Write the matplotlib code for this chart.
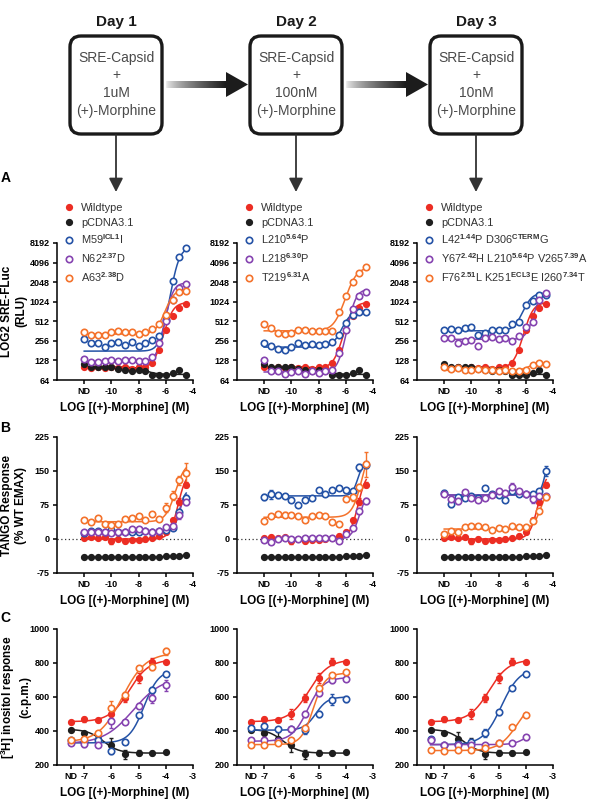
import numpy as np
import matplotlib
matplotlib.use("Agg")
import matplotlib.pyplot as plt
from matplotlib.patches import FancyBboxPatch, Polygon
from matplotlib.lines import Line2D
from matplotlib.colors import LinearSegmentedColormap
from matplotlib.ticker import NullLocator

plt.rcParams['font.family'] = ['Liberation Sans', 'DejaVu Sans']
plt.rcParams['mathtext.fontset'] = 'custom'
plt.rcParams['mathtext.rm'] = 'Liberation Sans'
plt.rcParams['mathtext.bf'] = 'Liberation Sans:bold'
plt.rcParams['axes.unicode_minus'] = False

# ---------------- data ----------------
# ND is drawn at -12 (panels A, B) and at -7.5 (panel C)
x_ab = [-12, -11.5, -11, -10.5, -10, -9.5, -9, -8.5, -8, -7.5, -7, -6.5, -6, -5.5, -5, -4.5]
x_c = [-7.5, -7, -6.5, -6, -5.5, -5, -4.5, -4]

days = ['Day 1', 'Day 2', 'Day 3']
box_doses = ['1uM', '100nM', '10nM']

names = [
    ['Wildtype', 'pCDNA3.1', r'M59$^{\mathbf{ICL1}}$I', r'N62$^{\mathbf{2.37}}$D', r'A63$^{\mathbf{2.38}}$D'],
    ['Wildtype', 'pCDNA3.1', r'L210$^{\mathbf{5.64}}$P', r'L218$^{\mathbf{6.30}}$P', r'T219$^{\mathbf{6.31}}$A'],
    ['Wildtype', 'pCDNA3.1', r'L42$^{\mathbf{1.44}}$P D306$^{\mathbf{CTERM}}$G',
     r'Y67$^{\mathbf{2.42}}$H L210$^{\mathbf{5.64}}$P V265$^{\mathbf{7.39}}$A',
     r'F76$^{\mathbf{2.51}}$L K251$^{\mathbf{ECL3}}$E I260$^{\mathbf{7.34}}$T'],
]

# A: SRE-FLuc (RLU)
wt_a = [100, 98, 100, 97, 100, 98, 100, 96, 100, 100, 115, 185, 380, 620, 820, 950]
pc_a = [114, 103, 102, 100, 100, 96, 92, 88, 92, 88, 76, 76, 76, 82, 92, 76]
m59_a = [272, 240, 240, 205, 240, 250, 225, 250, 215, 240, 260, 300, 540, 2150, 5000, 6800]
n62_a = [135, 122, 122, 124, 128, 124, 128, 128, 124, 125, 145, 240, 520, 1100, 1650, 1950]
a63_a = [354, 315, 318, 320, 350, 360, 355, 350, 330, 345, 390, 460, 650, 1100, 1450, 1500]
l210_a = [234, 217, 190, 188, 205, 235, 222, 229, 222, 229, 245, 310, 490, 640, 700, 710]
l218_a = [130, 88, 88, 80, 86, 88, 80, 88, 82, 88, 92, 165, 380, 800, 1250, 1450]
t219_a = [470, 410, 340, 330, 335, 375, 380, 365, 365, 365, 365, 700, 1250, 2070, 2800, 3450]
l42_a = [370, 390, 370, 405, 415, 320, 340, 380, 370, 380, 470, 505, 900, 1050, 1300, 1300]
y67_a = [286, 286, 240, 255, 260, 215, 286, 290, 275, 286, 255, 300, 420, 500, 1100, 1400]
f76_a = [100, 95, 98, 92, 92, 95, 90, 92, 87, 92, 88, 88, 92, 108, 115, 112]

# B: TANGO response (% WT EMAX) with error
wt_b = [2, 4, 2, 4, -5, 1, -4, -2, -2, -1, 2, 7, 15, 41, 82, 120]
wt_b_err = [3, 3, 3, 3, 6, 3, 4, 3, 3, 3, 3, 4, 4, 6, 8, 6]
pc_b = [-40, -40, -40, -40, -40, -40, -40, -40, -40, -39, -39, -39, -38, -38, -37, -36]
pc_b_err = [2, 2, 2, 2, 2, 2, 2, 2, 2, 2, 2, 2, 2, 2, 2, 2]
m59_b = [13, 17, 17, 15, 20, 16, 15, 16, 15, 17, 16, 17, 20, 25, 60, 90]
m59_b_err = [3, 3, 3, 3, 3, 3, 3, 3, 3, 3, 3, 3, 3, 4, 6, 6]
n62_b = [15, 15, 15, 16, 14, 16, 16, 22, 22, 17, 16, 18, 26, 28, 52, 82]
n62_b_err = [3, 3, 3, 3, 3, 3, 3, 4, 4, 3, 3, 3, 4, 4, 8, 6]
a63_b = [42, 37, 47, 33, 30, 33, 45, 46, 50, 41, 56, 45, 69, 95, 130, 146]
a63_b_err = [3, 3, 3, 3, 3, 3, 3, 4, 4, 4, 3, 3, 10, 10, 10, 22]
l210_b = [93, 99, 96, 95, 85, 76, 87, 90, 108, 99, 107, 112, 108, 105, 158, 164]
l210_b_err = [6, 10, 6, 5, 4, 4, 5, 5, 5, 4, 4, 4, 4, 4, 8, 8]
l218_b = [-3, -7, 0, 2, 1, 0, 2, 3, 3, 3, 3, -4, 10, 24, 62, 84]
l218_b_err = [3, 3, 3, 3, 3, 3, 3, 3, 3, 3, 3, 3, 3, 4, 6, 6]
t219_b = [40, 51, 55, 54, 53, 50, 42, 51, 53, 50, 37, 32, 88, 92, 114, 165]
t219_b_err = [3, 3, 5, 5, 5, 3, 3, 4, 4, 4, 4, 3, 5, 8, 8, 28]
l42_b = [102, 78, 92, 90, 95, 90, 112, 100, 98, 86, 105, 100, 100, 100, 105, 150]
l42_b_err = [5, 8, 5, 5, 5, 4, 5, 4, 4, 4, 4, 4, 4, 4, 5, 10]
y67_b = [100, 88, 83, 104, 90, 87, 90, 98, 105, 102, 115, 105, 100, 88, 95, 95]
y67_b_err = [4, 5, 5, 4, 4, 4, 4, 4, 4, 4, 8, 4, 4, 8, 5, 5]
f76_b = [11, 18, 15, 26, 29, 29, 26, 20, 24, 22, 28, 27, 26, 40, 62, 92]
f76_b_err = [3, 3, 3, 3, 3, 3, 3, 3, 3, 3, 3, 3, 3, 4, 5, 6]

# C: [3H] inositol response (c.p.m.) with error
wt_c = [452, 470, 462, 500, 595, 712, 808, 806]
wt_c_err = [8, 15, 8, 30, 25, 30, 20, 8]
pc_c = [405, 388, 355, 318, 262, 272, 270, 276]
pc_c_err = [6, 6, 40, 40, 25, 15, 12, 6]
m59_c = [350, 335, 345, 280, 335, 495, 642, 738]
m59_c_err = [10, 8, 10, 15, 10, 10, 15, 10]
n62_c = [330, 325, 318, 460, 452, 548, 592, 668]
n62_c_err = [10, 20, 12, 40, 10, 15, 25, 30]
a63_c = [350, 352, 388, 538, 612, 772, 775, 868]
a63_c_err = [10, 10, 10, 40, 20, 10, 15, 20]
l210_c = [415, 432, 410, 410, 405, 500, 585, 588]
l210_c_err = [10, 10, 10, 10, 25, 20, 30, 20]
l218_c = [345, 348, 340, 410, 500, 625, 700, 708]
l218_c_err = [15, 10, 10, 10, 20, 20, 15, 15]
t219_c = [320, 315, 330, 345, 415, 655, 728, 748]
t219_c_err = [8, 8, 10, 10, 15, 15, 10, 10]
l42_c = [355, 318, 322, 335, 388, 510, 652, 738]
l42_c_err = [10, 8, 10, 15, 25, 15, 10, 10]
y67_c = [348, 318, 320, 318, 315, 332, 328, 362]
y67_c_err = [10, 8, 8, 8, 8, 8, 8, 12]
f76_c = [290, 285, 289, 289, 298, 330, 422, 496]
f76_c_err = [6, 6, 6, 6, 6, 6, 8, 8]

# fitted curve parameters: (start level, end level, logEC50, hill)
fit_a = [
    [(98, 1000, -5.8, 1.3), (102, 78, -7.6, 1.0), (178, 7000, -5.2, 1.5), (122, 2000, -5.7, 1.6), (325, 1600, -5.8, 1.3)],
    [(98, 1000, -5.8, 1.3), (102, 78, -7.6, 1.0), (205, 730, -6.1, 1.3), (85, 1600, -5.5, 1.5), (365, 3500, -5.6, 1.1)],
    [(98, 1000, -5.8, 1.3), (102, 78, -7.6, 1.0), (365, 1400, -6.0, 1.3), (270, 1500, -5.2, 1.6), (90, 115, -5.8, 1.5)],
]
fit_b = [
    [(0, 150, -5.1, 1.4), (-40, -36, -5.5, 1.0), (15, 110, -5.0, 2.0), (16, 105, -5.0, 2.0), (38, 170, -5.3, 1.2)],
    [(0, 150, -5.1, 1.4), (-40, -36, -5.5, 1.0), (95, 175, -5.1, 2.0), (0, 105, -5.0, 1.5), (48, 220, -4.8, 1.2)],
    [(0, 150, -5.1, 1.4), (-40, -36, -5.5, 1.0), (97, 250, -4.4, 2.0), (96, 96, -6.0, 1.0), (22, 115, -4.9, 1.5)],
]
fit_c = [
    [(455, 820, -5.35, 1.2), (410, 270, -6.3, 1.5), (330, 760, -4.8, 1.6), (325, 720, -5.2, 0.8), (335, 860, -5.6, 1.0)],
    [(455, 820, -5.35, 1.2), (410, 270, -6.3, 1.5), (405, 600, -5.1, 2.0), (340, 715, -5.4, 1.5), (320, 740, -5.2, 2.0)],
    [(455, 820, -5.35, 1.2), (410, 270, -6.3, 1.5), (320, 770, -4.9, 1.3), (320, 400, -4.0, 2.0), (285, 600, -4.3, 1.3)],
]

data_a = [[wt_a, pc_a, m59_a, n62_a, a63_a], [wt_a, pc_a, l210_a, l218_a, t219_a], [wt_a, pc_a, l42_a, y67_a, f76_a]]
data_b = [[wt_b, pc_b, m59_b, n62_b, a63_b], [wt_b, pc_b, l210_b, l218_b, t219_b], [wt_b, pc_b, l42_b, y67_b, f76_b]]
err_b = [[wt_b_err, pc_b_err, m59_b_err, n62_b_err, a63_b_err], [wt_b_err, pc_b_err, l210_b_err, l218_b_err, t219_b_err],
         [wt_b_err, pc_b_err, l42_b_err, y67_b_err, f76_b_err]]
data_c = [[wt_c, pc_c, m59_c, n62_c, a63_c], [wt_c, pc_c, l210_c, l218_c, t219_c], [wt_c, pc_c, l42_c, y67_c, f76_c]]
err_c = [[wt_c_err, pc_c_err, m59_c_err, n62_c_err, a63_c_err], [wt_c_err, pc_c_err, l210_c_err, l218_c_err, t219_c_err],
         [wt_c_err, pc_c_err, l42_c_err, y67_c_err, f76_c_err]]

colors = ['#ec2d23', '#1e1e1e', '#2452a6', '#8543b0', '#f4722b']
filled = [True, True, False, False, False]
draw_order = [4, 3, 2, 1, 0]

# ---------------- figure ----------------
W, H = 591, 806
fig = plt.figure(figsize=(W / 100, H / 100), dpi=100)

# schematic on an overlay axes in pixel units
dax = fig.add_axes([0, 0, 1, 1])
dax.axis('off')
box_cx = [116, 296, 476]
box_w, box_top, box_bot = 92, 36, 134
grad = LinearSegmentedColormap.from_list('g', ['#f2f2f2', '#1c1c1c'])
for i, cx in enumerate(box_cx):
    dax.text(cx, 22, days[i], ha='center', va='center', fontsize=11, fontweight='bold', color='#1a1a1a')
    dax.add_patch(FancyBboxPatch((cx - box_w / 2, box_top), box_w, box_bot - box_top,
                                 boxstyle='round,pad=0,rounding_size=11', lw=2.4, ec='#1a1a1a', fc='white'))
    for j, t in enumerate(['SRE-Capsid', '+', box_doses[i], '(+)-Morphine']):
        dax.text(cx, 58 + j * 17.5, t, ha='center', va='center', fontsize=10, color='#4a4a4a')
    dax.annotate('', xy=(cx, 192), xytext=(cx, box_bot + 1),
                 arrowprops=dict(arrowstyle='-|>,head_length=0.55,head_width=0.28', color='#333333',
                                 lw=1.3, mutation_scale=15, shrinkA=0, shrinkB=0))
    if i < 2:
        x0 = cx + box_w / 2 + 4
        x1 = box_cx[i + 1] - box_w / 2 - 2
        hx = x1 - 22
        dax.imshow(np.linspace(0, 1, 100)[None, :] ** 0.7, extent=[x0, hx, 88, 81], cmap=grad,
                   aspect='auto', interpolation='bilinear')
        dax.add_patch(Polygon([(hx, 72), (x1, 84.5), (hx, 97)], closed=True, fc='#1c1c1c', ec='none'))
dax.set_xlim(0, W)
dax.set_ylim(H, 0)

for letter, yy in [('A', 178), ('B', 428), ('C', 618)]:
    fig.text(0.5 / W, 1 - yy / H, letter, fontsize=10, fontweight='bold', va='center', ha='left')

col_left = [57, 237, 417]
col_w = 136
rows = {'A': (243, 380), 'B': (437, 573), 'C': (629, 765)}


def make_ax(left, top, bottom):
    return fig.add_axes([left / W, 1 - bottom / H, col_w / W, (bottom - top) / H])


def style(ax):
    for s in ['top', 'right']:
        ax.spines[s].set_visible(False)
    for s in ['left', 'bottom']:
        ax.spines[s].set_linewidth(1.1)
    ax.tick_params(length=3, width=1.1, labelsize=6.5, pad=2.2)
    ax.set_xlabel('LOG [(+)-Morphine] (M)', fontsize=8.5, fontweight='bold', labelpad=4.5)


def logistic(xs, p):
    start, end, ec50, hill = p
    return start + (end - start) / (1 + 10 ** ((ec50 - xs) * hill))


def draw_series(ax, xs, ys, p, k, err=None):
    c = colors[k]
    xx = np.linspace(xs[0], xs[-1], 300)
    ax.plot(xx, logistic(xx, p), color=c, lw=1.1, zorder=2 + k * 0.1)
    if err is not None:
        ax.errorbar(xs, ys, yerr=err, fmt='none', ecolor=c, elinewidth=1.0, capsize=1.6, capthick=1.0,
                    zorder=2.5 + k * 0.1)
    if filled[k]:
        ax.plot(xs, ys, 'o', color=c, ms=4.2, mec=c, zorder=3 + k * 0.1)
    else:
        ax.plot(xs, ys, 'o', color=c, ms=4.6, mfc='white', mec=c, mew=1.2, zorder=3 + k * 0.1)


for i in range(3):
    # ---- panel A ----
    ax = make_ax(col_left[i], *rows['A'])
    ax.set_yscale('log', base=2)
    for k in draw_order:
        draw_series(ax, x_ab, data_a[i][k], fit_a[i][k], k)
    ax.set_xlim(-14, -4)
    ax.set_ylim(64, 8192)
    yt = [64, 128, 256, 512, 1024, 2048, 4096, 8192]
    ax.set_yticks(yt, [str(v) for v in yt], fontweight='bold')
    ax.yaxis.set_minor_locator(NullLocator())
    ax.set_xticks([-12, -10, -8, -6, -4], ['ND', '-10', '-8', '-6', '-4'], fontweight='bold')
    style(ax)
    handles = []
    for k in range(5):
        if filled[k]:
            handles.append(Line2D([], [], ls='none', marker='o', ms=4.2, color=colors[k]))
        else:
            handles.append(Line2D([], [], ls='none', marker='o', ms=4.6, mfc='white', mec=colors[k], mew=1.2))
    ax.legend(handles, names[i], loc='upper left', bbox_to_anchor=(0.05, 1.295), frameon=False,
              fontsize=7.9, handlelength=1.0, handletextpad=0.6, borderpad=0, borderaxespad=0,
              labelspacing=0.45, labelcolor='#333333')

    # ---- panel B ----
    ax = make_ax(col_left[i], *rows['B'])
    ax.axhline(0, color='#333333', lw=0.9, ls=(0, (1, 2)), zorder=1)
    for k in draw_order:
        draw_series(ax, x_ab, data_b[i][k], fit_b[i][k], k, err_b[i][k])
    ax.set_xlim(-14, -4)
    ax.set_ylim(-75, 225)
    ax.set_yticks([-75, 0, 75, 150, 225], ['-75', '0', '75', '150', '225'], fontweight='bold')
    ax.set_xticks([-12, -10, -8, -6, -4], ['ND', '-10', '-8', '-6', '-4'], fontweight='bold')
    style(ax)

    # ---- panel C ----
    ax = make_ax(col_left[i], *rows['C'])
    for k in draw_order:
        draw_series(ax, x_c, data_c[i][k], fit_c[i][k], k, err_c[i][k])
    ax.set_xlim(-8, -3)
    ax.set_ylim(200, 1000)
    ax.set_yticks([200, 400, 600, 800, 1000], ['200', '400', '600', '800', '1000'], fontweight='bold')
    ax.set_xticks([-7.5, -7, -6, -5, -4, -3], ['ND', '-7', '-6', '-5', '-4', '-3'], fontweight='bold')
    style(ax)

fig.text(14 / W, 1 - 311 / H, 'LOG2 SRE-FLuc\n(RLU)', rotation=90, ha='center', va='center',
         fontsize=8.5, fontweight='bold', multialignment='center')
fig.text(14 / W, 1 - 505 / H, 'TANGO Response\n(% WT EMAX)', rotation=90, ha='center', va='center',
         fontsize=8.5, fontweight='bold', multialignment='center')
fig.text(15 / W, 1 - 697 / H, '[$^{\\mathbf{3}}$H] inositol response\n(c.p.m.)', rotation=90, ha='center',
         va='center', fontsize=8.5, fontweight='bold', multialignment='center')

fig.savefig('out.png', dpi=100)
